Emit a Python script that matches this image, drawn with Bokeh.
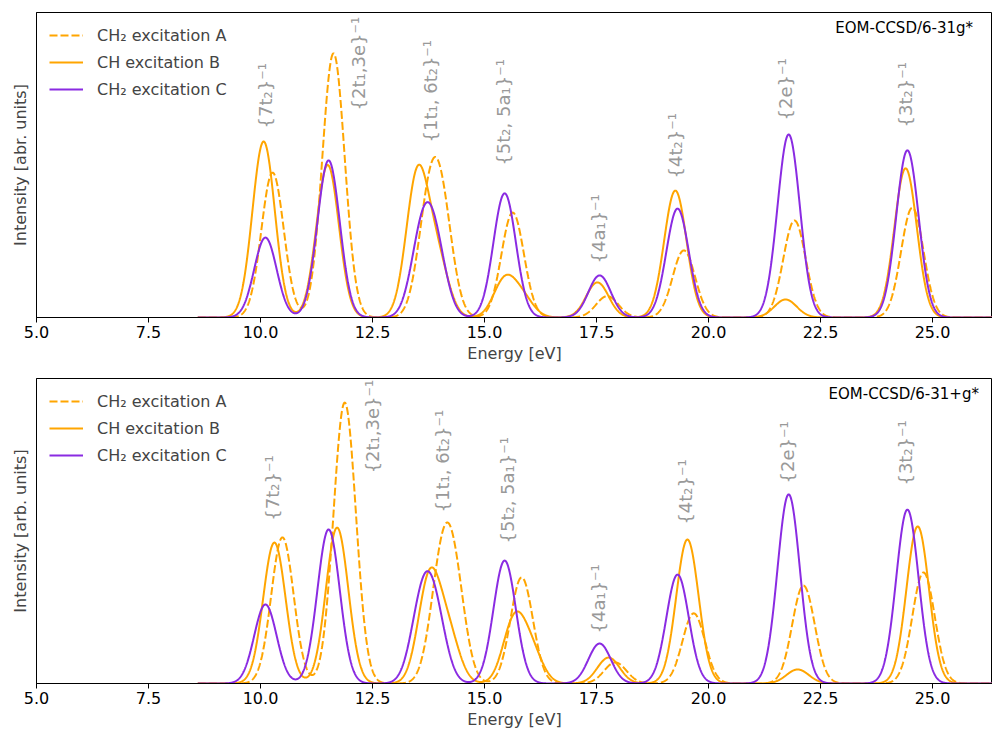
import numpy as np
from bokeh.plotting import figure
from bokeh.models import Range1d, FixedTicker, Legend, LegendItem, Label, ColumnDataSource, NumeralTickFormatter
from bokeh.layouts import column
from bokeh.embed import file_html
from bokeh.resources import INLINE
from bokeh.core.properties import value

FONT = "DejaVu Sans"
ORANGE = "#ffa500"
PURPLE = "#8a2be2"
GRAY = "#999999"

# ---------------- data ----------------
x_ticks = [5.0, 7.5, 10.0, 12.5, 15.0, 17.5, 20.0, 22.5, 25.0]
series_names = ["CH\u2082 excitation A", "CH excitation B", "CH\u2082 excitation C"]
broadening_sigma = 0.25          # Gaussian broadening (eV)
energy_start, energy_stop = 8.6, 27.0

# Panel 1: EOM-CCSD/6-31g*
top_title = "EOM-CCSD/6-31g*"
top_ylabel = "Intensity [abr. units]"
top_A_pos = [10.27, 11.63, 13.75, 14.05, 15.63, 17.74, 19.45, 21.92, 24.55]
top_A_int = [0.475, 0.866, 0.315, 0.315, 0.344, 0.070, 0.220, 0.318, 0.360]
top_B_pos = [10.07, 11.50, 13.50, 13.95, 15.45, 15.85, 17.52, 19.26, 21.72, 24.40]
top_B_int = [0.577, 0.500, 0.460, 0.180, 0.120, 0.060, 0.115, 0.416, 0.059, 0.489]
top_C_pos = [10.11, 11.52, 13.60, 13.90, 15.45, 17.57, 19.31, 21.79, 24.44]
top_C_int = [0.262, 0.515, 0.245, 0.207, 0.407, 0.138, 0.357, 0.600, 0.548]

# Panel 2: EOM-CCSD/6-31+g*
bot_title = "EOM-CCSD/6-31+g*"
bot_ylabel = "Intensity [arb. units]"
bot_A_pos = [10.49, 11.88, 14.02, 14.32, 15.83, 17.92, 19.67, 22.12, 24.80]
bot_A_int = [0.479, 0.921, 0.316, 0.316, 0.348, 0.069, 0.230, 0.321, 0.364]
bot_B_pos = [10.31, 11.71, 13.77, 14.20, 15.66, 16.05, 17.77, 19.53, 21.99, 24.67]
bot_B_int = [0.462, 0.511, 0.340, 0.150, 0.200, 0.100, 0.085, 0.472, 0.046, 0.515]
bot_C_pos = [10.11, 11.52, 13.60, 13.90, 15.45, 17.57, 19.31, 21.79, 24.44]
bot_C_int = [0.259, 0.505, 0.240, 0.200, 0.403, 0.131, 0.357, 0.620, 0.570]

# Orbital ionisation labels
orbital_labels = ["{7t\u2082}\u207b\u00b9", "{2t\u2081,3e}\u207b\u00b9", "{1t\u2081, 6t\u2082}\u207b\u00b9",
                  "{5t\u2082, 5a\u2081}\u207b\u00b9", "{4a\u2081}\u207b\u00b9", "{4t\u2082}\u207b\u00b9",
                  "{2e}\u207b\u00b9", "{3t\u2082}\u207b\u00b9"]
top_label_x = [10.11, 12.19, 13.79, 15.42, 17.54, 19.26, 21.72, 24.40]
top_label_y = [0.620, 0.679, 0.574, 0.498, 0.177, 0.456, 0.646, 0.623]
bot_label_x = [10.27, 12.50, 14.06, 15.51, 17.54, 19.49, 21.77, 24.40]
bot_label_y = [0.534, 0.689, 0.561, 0.459, 0.164, 0.521, 0.656, 0.649]

title_x = [22.83, 22.68]
title_y = 0.98

# ---------------- helpers ----------------
energy = np.linspace(energy_start, energy_stop, 3000)
PX_PER_EV = 44.8
FRAME_W = 956


def spectrum(pos, inten):
    y = np.zeros_like(energy)
    for p0, a in zip(pos, inten):
        y += a * np.exp(-((energy - p0) ** 2) / (2 * broadening_sigma ** 2))
    return y


def make_panel(A, B, C, lab_x, lab_y, title, tx, ylabel, top_border, bottom_border):
    p = figure(frame_width=FRAME_W, frame_height=305, output_backend="svg", toolbar_location=None,
               x_range=Range1d(5.0, 5.0 + FRAME_W / PX_PER_EV), y_range=Range1d(0.0, 1.0),
               min_border_left=36, min_border_right=0, min_border_top=top_border,
               min_border_bottom=bottom_border)
    p.xgrid.visible = False
    p.ygrid.visible = False
    p.outline_line_color = "black"
    p.outline_line_width = 1
    p.background_fill_color = "white"
    p.border_fill_color = "white"

    # x axis
    xa = p.xaxis[0]
    xa.ticker = FixedTicker(ticks=x_ticks)
    xa.formatter = NumeralTickFormatter(format="0.0")
    xa.minor_tick_line_color = None
    xa.major_tick_out = 5
    xa.major_tick_in = 0
    xa.major_label_standoff = 3
    xa.major_label_text_font = FONT
    xa.major_label_text_font_size = "16px"
    xa.major_label_text_color = "black"
    xa.axis_label = "Energy [eV]"
    xa.axis_label_text_font = FONT
    xa.axis_label_text_font_size = "16px"
    xa.axis_label_text_font_style = "normal"
    xa.axis_label_standoff = 3
    xa.axis_line_color = "black"

    # y axis
    ya = p.yaxis[0]
    ya.ticker = FixedTicker(ticks=[])
    ya.minor_tick_line_color = None
    ya.major_tick_line_color = None
    ya.axis_label = ylabel
    ya.axis_label_text_font = FONT
    ya.axis_label_text_font_size = "16px"
    ya.axis_label_text_font_style = "normal"
    ya.axis_label_standoff = 7
    ya.axis_line_color = "black"

    rA = p.line(energy, spectrum(*A), line_color=ORANGE, line_width=2, line_dash="8 3")
    rB = p.line(energy, spectrum(*B), line_color=ORANGE, line_width=2)
    rC = p.line(energy, spectrum(*C), line_color=PURPLE, line_width=2)

    src = ColumnDataSource(dict(x=lab_x, y=lab_y, t=orbital_labels))
    p.text(x="x", y="y", text="t", source=src, angle=np.pi / 2, text_align="left",
           text_baseline="middle", text_color=GRAY, text_font=value(FONT), text_font_size="18px")

    p.add_layout(Label(x=tx, y=title_y, text=title, text_align="left", text_baseline="top",
                       text_font=FONT, text_font_size="15px", text_color="black"))

    legend = Legend(items=[LegendItem(label=series_names[0], renderers=[rA]),
                           LegendItem(label=series_names[1], renderers=[rB]),
                           LegendItem(label=series_names[2], renderers=[rC])],
                    location="top_left", border_line_color=None, background_fill_alpha=0,
                    label_text_font=FONT, label_text_font_size="16px", glyph_width=34,
                    glyph_height=20, label_height=20, label_standoff=14, spacing=7,
                    margin=13, padding=0)
    p.add_layout(legend)
    return p


p1 = make_panel((top_A_pos, top_A_int), (top_B_pos, top_B_int), (top_C_pos, top_C_int),
                top_label_x, top_label_y, top_title, title_x[0], top_ylabel, 12, 53)
p2 = make_panel((bot_A_pos, bot_A_int), (bot_B_pos, bot_B_int), (bot_C_pos, bot_C_int),
                bot_label_x, bot_label_y, bot_title, title_x[1], bot_ylabel, 8, 49)

layout = column(p1, p2, spacing=0)
open("out.html", "w").write(file_html(layout, INLINE))
